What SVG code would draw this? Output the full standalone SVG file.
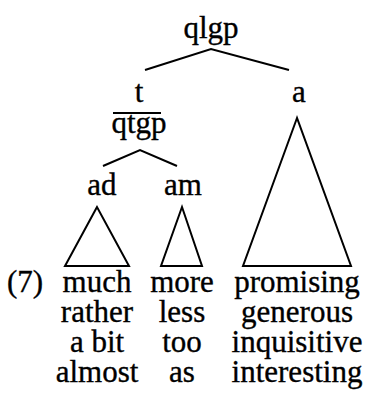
<svg xmlns="http://www.w3.org/2000/svg" width="372" height="397" viewBox="0 0 372 397">
<style>
text{font-family:'Liberation Serif','Times New Roman',Times,serif;font-size:31px;fill:#000;stroke:#000;stroke-width:0.35;text-anchor:middle}
.l{fill:none;stroke:#000;stroke-width:2;stroke-linejoin:miter}
</style>
<rect width="372" height="397" fill="#fff"/>
<g id="connectors">
<polyline class="l" points="145,70 211,49 289,70"/>
<line class="l" x1="113" y1="113" x2="161" y2="113"/>
<polyline class="l" points="103,166 140,150 177,166"/>
<polygon class="l" points="97,207 65,266 129,266"/>
<polygon class="l" points="182,207 161,266 202,266"/>
<polygon class="l" points="297,118 243,266 351,266"/>
</g>
<g id="qlgp"><text x="211" y="38">qlgp</text></g>
<g id="t"><text x="139" y="102">t</text></g>
<g id="qtgp"><text x="139" y="133">qtgp</text></g>
<g id="a"><text x="299" y="102">a</text></g>
<g id="ad"><text x="102" y="195">ad</text></g>
<g id="am"><text x="183" y="195">am</text></g>
<g id="label"><text x="25" y="292">(7)</text></g>
<g id="col1">
<text x="97" y="292">much</text>
<text x="97" y="322">rather</text>
<text x="97" y="352">a bit</text>
<text x="97" y="382">almost</text>
</g>
<g id="col2">
<text x="182" y="292">more</text>
<text x="182" y="322">less</text>
<text x="182" y="352">too</text>
<text x="182" y="382">as</text>
</g>
<g id="col3">
<text x="297" y="292">promising</text>
<text x="297" y="322">generous</text>
<text x="297" y="352">inquisitive</text>
<text x="297" y="382">interesting</text>
</g>
</svg>
